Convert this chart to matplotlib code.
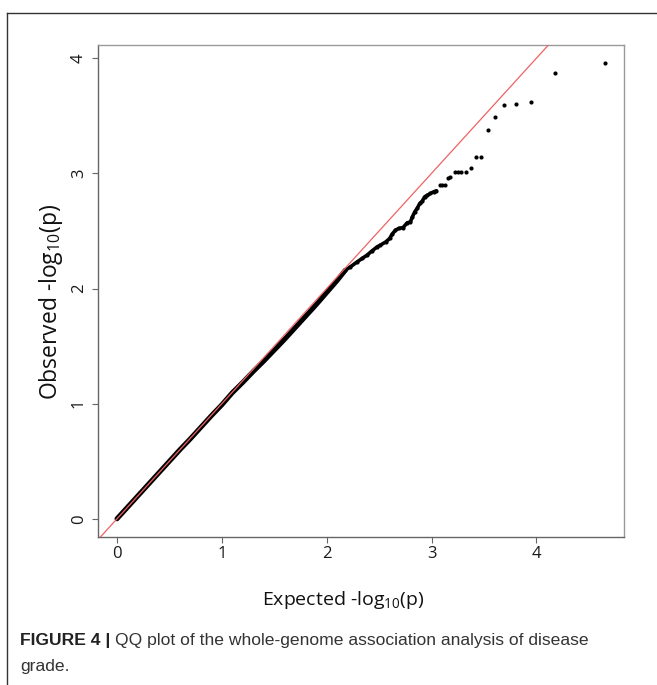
import matplotlib
matplotlib.use("Agg")
import matplotlib.pyplot as plt
from matplotlib.lines import Line2D

plt.rcParams['font.family'] = ['Open Sans', 'DejaVu Sans']
plt.rcParams['mathtext.default'] = 'regular'

# Dense body of the QQ curve (expected, observed -log10 p)
body_expected = [0.0, 0.1, 0.2, 0.3, 0.4, 0.5, 0.6, 0.7, 0.8, 0.9, 1.0, 1.1, 1.2,
                 1.3, 1.4, 1.5, 1.6, 1.7, 1.8, 1.9, 2.0, 2.1, 2.178]
body_observed = [0.0, 0.1, 0.2, 0.3, 0.4, 0.5, 0.6, 0.695, 0.795, 0.895, 0.99, 1.095, 1.185,
                 1.28, 1.37, 1.465, 1.56, 1.66, 1.76, 1.86, 1.965, 2.07, 2.159]

# Upper tail points
tail_expected = [2.178, 2.226, 2.29, 2.338, 2.385, 2.433, 2.481, 2.512, 2.564, 2.601,
                 2.624, 2.656, 2.687, 2.729, 2.767, 2.799, 2.815, 2.84, 2.863, 2.888,
                 2.91, 2.935, 2.958, 2.99, 3.02, 3.047, 3.08, 3.10, 3.126, 3.155, 3.18,
                 3.22, 3.25, 3.285, 3.326, 3.374, 3.422, 3.476, 3.537, 3.607, 3.696,
                 3.807, 3.95, 4.176, 4.65]
tail_observed = [2.159, 2.188, 2.231, 2.261, 2.29, 2.327, 2.362, 2.377, 2.405, 2.435,
                 2.472, 2.507, 2.522, 2.530, 2.570, 2.579, 2.617, 2.666, 2.696, 2.739,
                 2.757, 2.797, 2.809, 2.826, 2.840, 2.849, 2.898, 2.898, 2.898, 2.962, 2.97,
                 3.014, 3.014, 3.014, 3.014, 3.043, 3.139, 3.139, 3.374, 3.492, 3.591,
                 3.60, 3.617, 3.870, 3.957]
dense_tail_count = 26  # tail points close enough to read as a continuous band

x_ticks = [0, 1, 2, 3, 4]
y_ticks = [0, 1, 2, 3, 4]
x_label = r'Expected -log$_{10}$(p)'
y_label = r'Observed -log$_{10}$(p)'
caption_bold = 'FIGURE 4 | '
caption_line1 = 'QQ plot of the whole-genome association analysis of disease'
caption_line2 = 'grade.'

W, H = 657, 685
fig = plt.figure(figsize=(W / 100, H / 100), dpi=100)
L, R, T, B = 97.5, 624, 45, 537
ax = fig.add_axes([L / W, 1 - B / H, (R - L) / W, (B - T) / H])

ax.plot(body_expected, body_observed, color='black', lw=3.6,
        solid_capstyle='round', solid_joinstyle='round', zorder=2)
ax.plot(tail_expected[:dense_tail_count], tail_observed[:dense_tail_count],
        color='black', lw=2.6, solid_capstyle='round', zorder=2)
ax.scatter(tail_expected, tail_observed, s=9, color='black', linewidths=0, zorder=3)
ax.axline((0, 0), (1, 1), color='#f06262', lw=0.9, zorder=4)

xmax = max(tail_expected)
ymax = max(tail_observed)
ax.set_xlim(-0.04 * xmax, xmax * 1.04)
ax.set_ylim(-0.04 * ymax, ymax * 1.04)

ax.set_xticks(x_ticks)
ax.set_yticks(y_ticks)
ax.tick_params(direction='out', length=4.6, width=0.8, color='#666666',
               labelsize=12, labelcolor='#1a1a1a')
ax.tick_params(axis='x', pad=2.0)
ax.tick_params(axis='y', pad=3)
for lab in ax.get_yticklabels():
    lab.set_rotation(90)
    lab.set_va('center')
for side in ['left', 'bottom']:
    ax.spines[side].set_color('#666666')
    ax.spines[side].set_linewidth(1.0)
for side in ['top', 'right']:
    ax.spines[side].set_color('#9a9a9a')
    ax.spines[side].set_linewidth(1.0)

fig.text(343 / W, 1 - 600 / H, x_label, ha='center', va='center',
         fontsize=14, color='#111111')
fig.text(51 / W, 1 - 302 / H, y_label, ha='center', va='center',
         fontsize=16.5, color='#111111', rotation=90)

# outer frame (top and left edges)
fig.add_artist(Line2D([7 / W, 7 / W], [0, 1 - 13 / H], transform=fig.transFigure,
                      color='#333333', lw=1.0))
fig.add_artist(Line2D([7 / W, 1], [1 - 13 / H, 1 - 13 / H], transform=fig.transFigure,
                      color='#333333', lw=1.0))

cap_font = ['Liberation Sans Narrow', 'Liberation Sans', 'DejaVu Sans']
t1 = fig.text(20 / W, 1 - 641 / H, caption_bold, ha='left', va='center',
              fontsize=12.6, fontweight='bold', family=cap_font, color='#222222')
fig.canvas.draw()
bb = t1.get_window_extent(renderer=fig.canvas.get_renderer())
fig.text(bb.x1 / W, 1 - 641 / H, caption_line1, ha='left', va='center',
         fontsize=12.6, family=cap_font, color='#333333')
fig.text(20 / W, 1 - 667 / H, caption_line2, ha='left', va='center',
         fontsize=12.6, family=cap_font, color='#333333')

fig.savefig('out.png', dpi=100)
